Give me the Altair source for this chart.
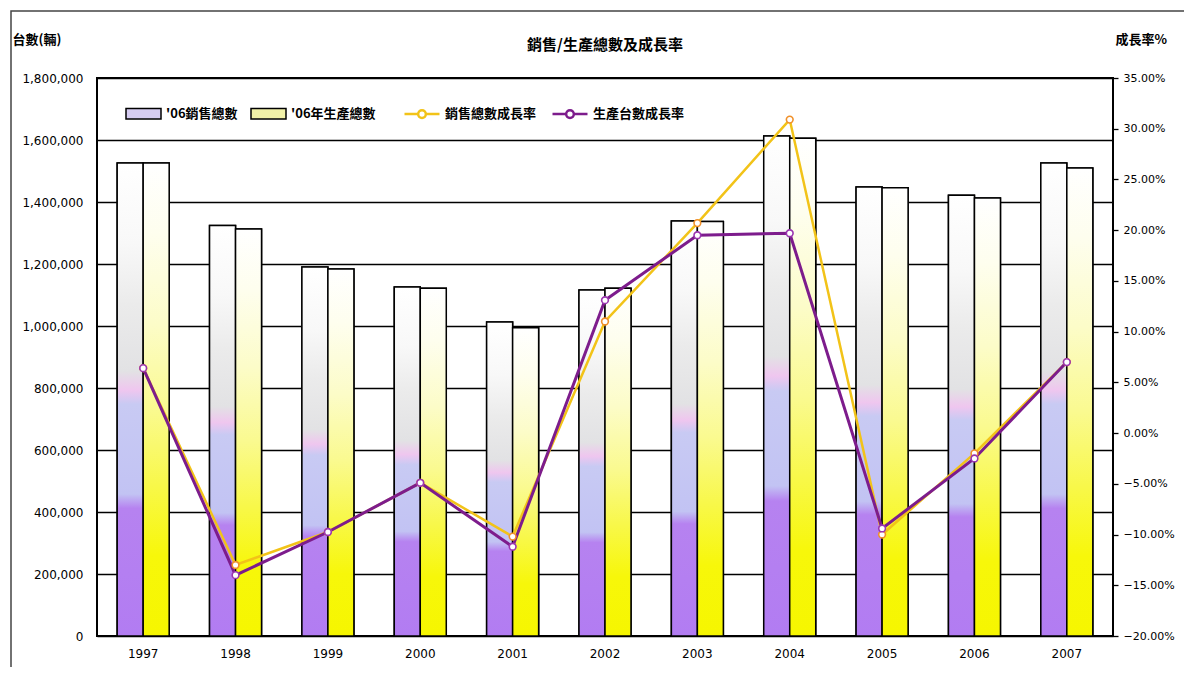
import altair as alt
import pandas as pd

years = ["1997", "1998", "1999", "2000", "2001", "2002", "2003", "2004", "2005", "2006", "2007"]
sales_units = [1526000, 1324000, 1190000, 1126000, 1013000, 1116000, 1339000, 1613000, 1448000, 1422000, 1526000]
production_units = [1526000, 1313000, 1184000, 1122000, 994000, 1122000, 1337000, 1606000, 1446000, 1413000, 1510000]
sales_growth = [0.064, -0.130, -0.0975, -0.049, -0.102, 0.110, 0.207, 0.309, -0.100, -0.020, 0.070]
production_growth = [0.064, -0.140, -0.0975, -0.049, -0.112, 0.131, 0.195, 0.197, -0.094, -0.025, 0.070]
bar_series = ["'06銷售總數", "'06年生產總數"]
line_series = ["銷售總數成長率", "生產台數成長率"]
chart_title = ["銷售/生產總數及成長率"]

sales_df = pd.DataFrame({"year": years, "units": sales_units, "series": bar_series[0]})
prod_df = pd.DataFrame({"year": years, "units": production_units, "series": bar_series[1]})
sg_df = pd.DataFrame({"year": years, "growth": sales_growth, "series": line_series[0]})
pg_df = pd.DataFrame({"year": years, "growth": production_growth, "series": line_series[1]})

CJK = "Noto Sans CJK TC"
NUM = "DejaVu Sans"
W, H = 1016, 558

x = alt.X("year:O", sort=years,
          scale=alt.Scale(paddingInner=0, paddingOuter=0),
          axis=alt.Axis(title=None, labelAngle=0, ticks=False, domain=False,
                        labelFont=NUM, labelFontSize=12, labelColor="black",
                        labelPadding=12))

y_left = alt.Y("units:Q",
               scale=alt.Scale(domain=[0, 1800000], nice=False, zero=True),
               axis=alt.Axis(values=list(range(0, 1800001, 200000)), format=",d",
                             title="台數(輛)", titleAngle=0, titleX=-85, titleY=-39,
                             titleAlign="left", titleBaseline="middle",
                             titleFont=CJK, titleFontSize=13, titleFontWeight="bold",
                             titleColor="black",
                             grid=True, gridColor="black", gridWidth=1.3,
                             ticks=False, domain=False, labelPadding=14,
                             labelFont=NUM, labelFontSize=12, labelColor="black"))

y_right = alt.Y("growth:Q",
                scale=alt.Scale(domain=[-0.20, 0.35], nice=False, zero=False),
                axis=alt.Axis(orient="right", values=[v / 100 for v in range(-20, 36, 5)],
                              format=".2%", title="成長率%", titleAngle=0,
                              titleX=2, titleY=-39, titleAlign="left",
                              titleBaseline="middle", titleFont=CJK, titleFontSize=13,
                              titleFontWeight="bold", titleColor="black",
                              grid=False, ticks=True, tickColor="black", tickSize=5,
                              tickWidth=1.3, domain=False, labelPadding=5,
                              labelFont=NUM, labelFontSize=11, labelColor="black"))

purple_grad = alt.Gradient(
    gradient="linear", x1=0, x2=0, y1=1, y2=0,
    stops=[alt.GradientStop(offset=0, color="#B27CF2"),
           alt.GradientStop(offset=0.27, color="#B682F0"),
           alt.GradientStop(offset=0.30, color="#C2C3F3"),
           alt.GradientStop(offset=0.49, color="#C8CAF3"),
           alt.GradientStop(offset=0.52, color="#EFC6EF"),
           alt.GradientStop(offset=0.56, color="#E2E2E4"),
           alt.GradientStop(offset=0.70, color="#EBEBEB"),
           alt.GradientStop(offset=0.83, color="#F8F8F8"),
           alt.GradientStop(offset=1.0, color="#FFFFFF")])

yellow_grad = alt.Gradient(
    gradient="linear", x1=0, x2=0, y1=1, y2=0,
    stops=[alt.GradientStop(offset=0, color="#F6F600"),
           alt.GradientStop(offset=0.17, color="#F7F70A"),
           alt.GradientStop(offset=0.32, color="#F8F84A"),
           alt.GradientStop(offset=0.48, color="#FAFA90"),
           alt.GradientStop(offset=0.66, color="#FCFCC8"),
           alt.GradientStop(offset=0.85, color="#FEFEEE"),
           alt.GradientStop(offset=1.0, color="#FFFFFF")])

bar_fill = alt.Fill("series:N",
                    scale=alt.Scale(domain=bar_series, range=["#D6CCF2", "#F2F2A8"]),
                    legend=alt.Legend(orient="none", legendX=28, legendY=17,
                                      direction="horizontal", title=None,
                                      symbolType="M-1,-0.3H1V0.3H-1Z", symbolSize=1225,
                                      symbolStrokeColor="black", symbolStrokeWidth=1.5,
                                      symbolOpacity=1,
                                      labelFont=CJK, labelFontSize=13,
                                      labelFontWeight="bold", labelColor="black",
                                      labelOffset=4, columnPadding=10))

BW = 26
base_s = alt.Chart(sales_df).mark_bar(width=BW, xOffset=-BW / 2, stroke="black",
                                      strokeWidth=1.5).encode(x=x, y=y_left, fill=bar_fill)
base_p = alt.Chart(prod_df).mark_bar(width=BW, xOffset=BW / 2, stroke="black",
                                     strokeWidth=1.5).encode(x=x, y=y_left, fill=bar_fill)
grad_s = alt.Chart(sales_df).mark_bar(width=BW, xOffset=-BW / 2, fill=purple_grad,
                                      stroke="black", strokeWidth=1.5).encode(x=x, y=y_left)
grad_p = alt.Chart(prod_df).mark_bar(width=BW, xOffset=BW / 2, fill=yellow_grad,
                                     stroke="black", strokeWidth=1.5).encode(x=x, y=y_left)

line_stroke = alt.Stroke("series:N",
                         scale=alt.Scale(domain=line_series, range=["#F2C318", "#7D1C8C"]),
                         legend=alt.Legend(orient="none", legendX=306, legendY=17,
                                           direction="horizontal", title=None,
                                           symbolType="M-1,0H-0.22M0.22,0H1M0.22,0A0.22,0.22 0 1 1 -0.22,0A0.22,0.22 0 1 1 0.22,0",
                                           symbolSize=1225, symbolStrokeWidth=2.5,
                                           symbolFillColor="white",
                                           labelFont=CJK, labelFontSize=13,
                                           labelFontWeight="bold", labelColor="black",
                                           labelOffset=4, columnPadding=10))

line_s = alt.Chart(sg_df).mark_line(strokeWidth=2.5).encode(x=x, y=y_right, stroke=line_stroke)
line_p = alt.Chart(pg_df).mark_line(strokeWidth=3).encode(x=x, y=y_right, stroke=line_stroke)
pts_s = alt.Chart(sg_df).mark_circle(size=45, fill="white", stroke="#F0902A",
                                     strokeWidth=1.6, opacity=1).encode(x=x, y=y_right)
pts_p = alt.Chart(pg_df).mark_circle(size=45, fill="white", stroke="#9A35B0",
                                     strokeWidth=1.6, opacity=1).encode(x=x, y=y_right)

frame = alt.Chart(pd.DataFrame({"k": [0]})).mark_rect(
    fill="transparent", stroke="#444444", strokeWidth=1.5).encode(
    x=alt.value(-86), x2=alt.value(1092), y=alt.value(-67), y2=alt.value(620))

title_mark = alt.Chart(pd.DataFrame({"t": chart_title})).mark_text(
    font=CJK, fontSize=15, fontWeight="bold", color="black",
    align="center", baseline="middle").encode(
    text="t:N", x=alt.value(W / 2), y=alt.value(-33))

bars = alt.layer(base_s, base_p, grad_s, grad_p)
lines = alt.layer(line_s, line_p, pts_s, pts_p)

chart = alt.layer(bars, lines, frame, title_mark).resolve_scale(
    y="independent", fill="independent", stroke="independent"
).properties(
    width=W, height=H,
    autosize=alt.AutoSizeParams(type="none"),
    padding={"left": 89, "top": 70, "right": 71, "bottom": 31},
    background="white",
).configure_view(stroke="black", strokeWidth=2)

chart.save("out.html", embed_options={"renderer": "svg", "actions": False})
